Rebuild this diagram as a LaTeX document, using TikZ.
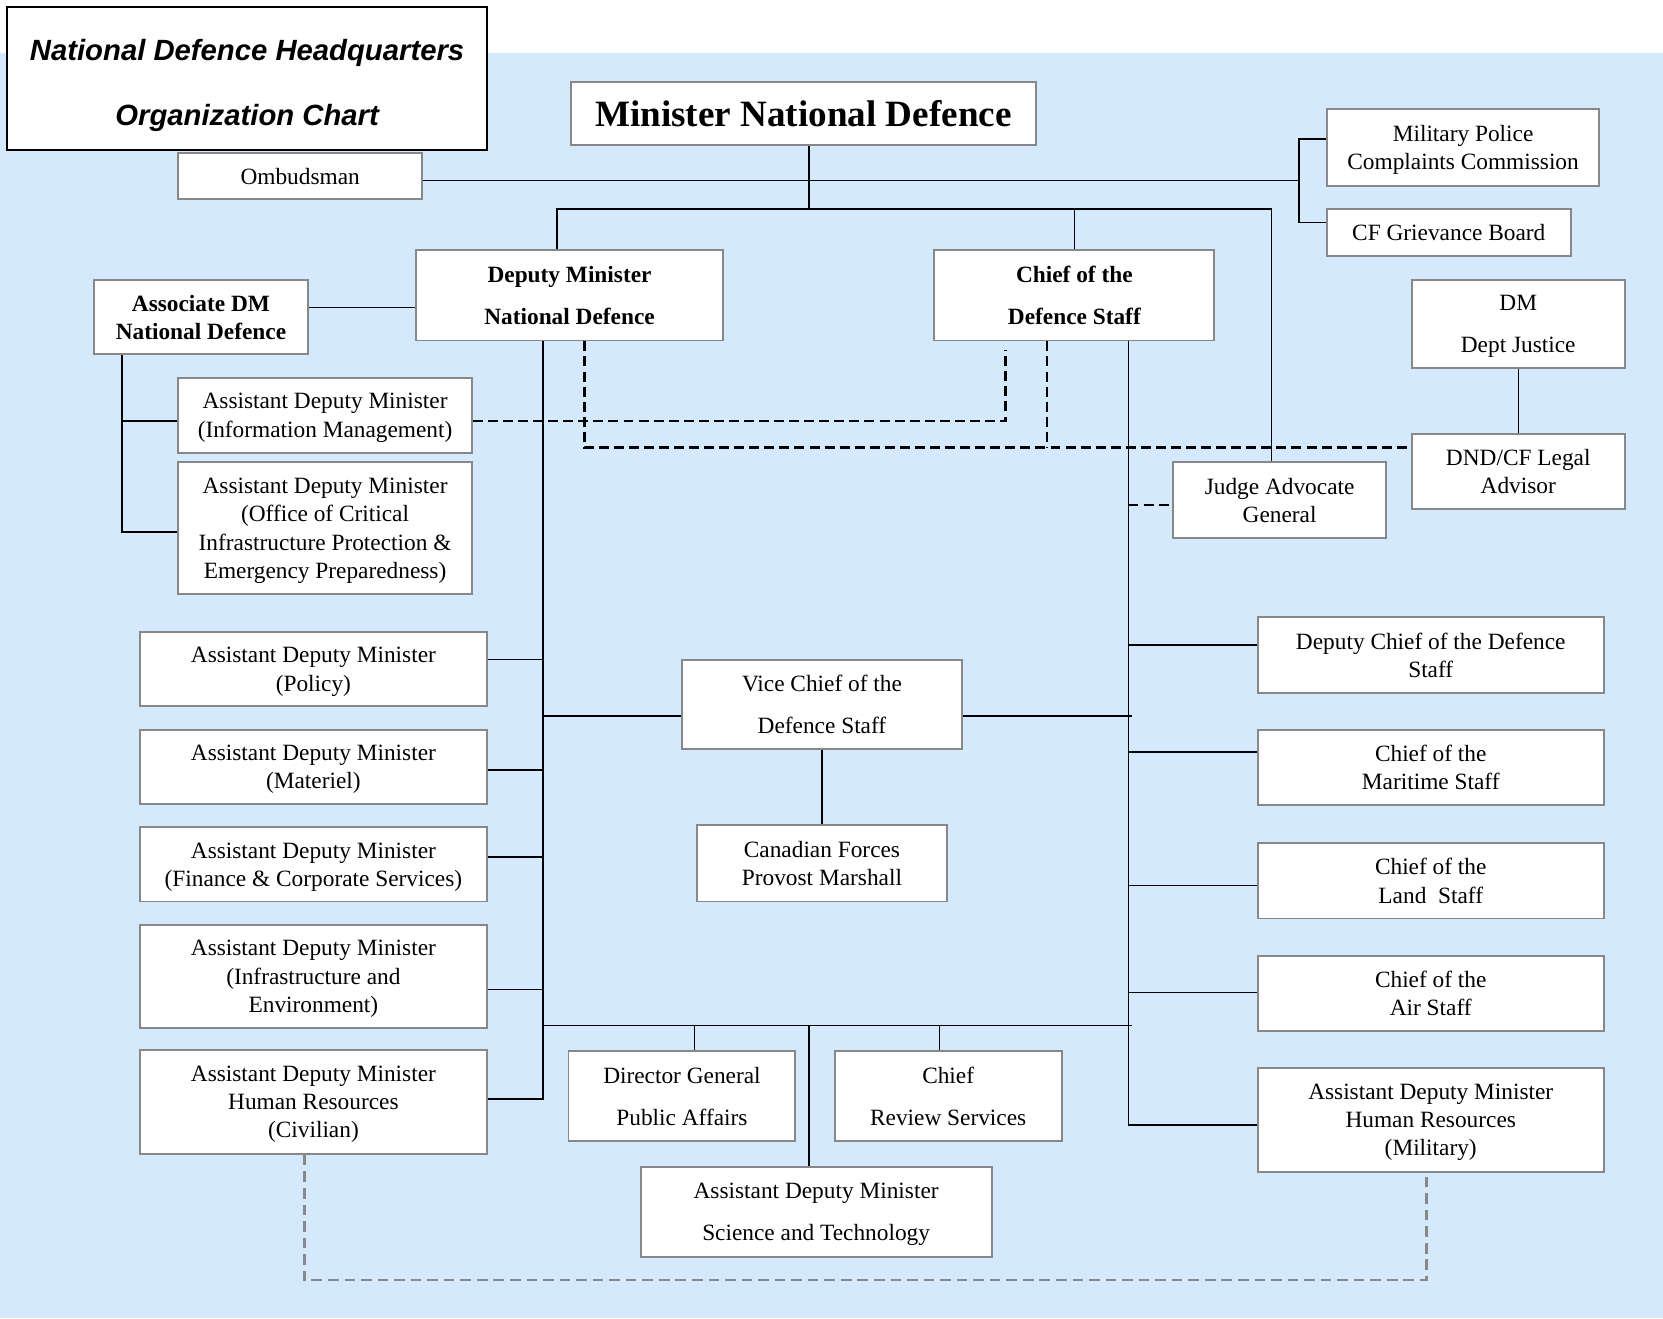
\documentclass[tikz,border=0pt]{standalone}
\usepackage{fontspec}
\setmainfont{Liberation Serif}
\newfontfamily\headfont{Liberation Sans}
\usepackage{tikz}
\usetikzlibrary{positioning,calc}
\definecolor{bgblue}{RGB}{212,233,252}
\definecolor{boxgray}{RGB}{136,136,136}

\begin{document}
\begin{tikzpicture}[x=0.5pt, y=-0.5pt,
    unit/.style={draw=boxgray, line width=0.9pt, fill=white, align=center, inner sep=0pt,
      text depth=-1pt, font=\fontsize{11}{13.3}\selectfont},
    wide/.style={unit, font=\fontsize{11}{20}\selectfont},
    boss/.style={unit, font=\bfseries\fontsize{11}{13.3}\selectfont},
    bosswide/.style={unit, font=\bfseries\fontsize{11}{20}\selectfont},
    link/.style={line width=0.7pt},
    trunk/.style={line width=0.9pt},
    dotlink/.style={line width=1.1pt, dash pattern=on 4.7pt off 2.4pt},
    hrlink/.style={line width=1.2pt, boxgray, dash pattern=on 5pt off 2.8pt}]

    \useasboundingbox (0,0) rectangle (1568,1243);
    \fill[white] (0,0) rectangle (1568,1243);
    \fill[bgblue] (0,50) rectangle (1568,1243);

    % top of the chart
    \node[draw=black, line width=1pt, fill=white, minimum width=226pt, minimum height=67.5pt, align=center,
          inner sep=0pt, text height=44.5pt, text depth=0pt,
          font=\headfont\bfseries\itshape\fontsize{13.8}{30.5}\selectfont] (title) at (233,74)
          {National Defence Headquarters\\Organization Chart};
    \node[unit, font=\bfseries\fontsize{17.5}{20}\selectfont, minimum width=219.5pt, minimum height=30pt] (mnd) at (757.5,107) {Minister National Defence};
    \node[unit, minimum width=115pt, minimum height=22pt] (ombud) at (283,166) {Ombudsman};
    \node[unit, minimum width=128.5pt, minimum height=36pt] (mpcc) at (1379.5,139) {Military Police\\Complaints Commission};
    \node[unit, minimum width=115pt, minimum height=22pt] (cfgb) at (1366,219) {CF Grievance Board};
    \node[bosswide, minimum width=145pt, minimum height=42.5pt] (dm) at (537,278.5) {Deputy Minister\\National Defence};
    \node[bosswide, minimum width=132pt, minimum height=42.5pt] (cds) at (1013,278.5) {Chief of the\\Defence Staff};
    \node[boss, minimum width=100.5pt, minimum height=35pt] (assocdm) at (189.5,299) {Associate DM\\National Defence};
    \node[wide, minimum width=100.5pt, minimum height=41.5pt] (dmjus) at (1431.5,305.5) {DM\\Dept Justice};
    \node[unit, minimum width=138.5pt, minimum height=35.5pt] (admim) at (306.5,391.5) {Assistant Deputy Minister\\(Information Management)};
    \node[unit, minimum width=138.5pt, minimum height=62pt] (admoc) at (306.5,498) {Assistant Deputy Minister\\(Office of Critical\\Infrastructure Protection \&\\Emergency Preparedness)};
    \node[unit, minimum width=100.5pt, minimum height=35.5pt] (legal) at (1431.5,444.5) {DND/CF Legal\\Advisor};
    \node[unit, minimum width=100.5pt, minimum height=35.5pt] (jag) at (1206.5,471.5) {Judge Advocate\\General};

    % left column
    \node[unit, minimum width=163.5pt, minimum height=35pt] (admpol) at (295.5,631) {Assistant Deputy Minister\\(Policy)};
    \node[unit, minimum width=163.5pt, minimum height=35pt] (admmat) at (295.5,723) {Assistant Deputy Minister\\(Materiel)};
    \node[unit, minimum width=163.5pt, minimum height=35pt] (admfin) at (295.5,815) {Assistant Deputy Minister\\(Finance \& Corporate Services)};
    \node[unit, minimum width=163.5pt, minimum height=48.5pt] (adminf) at (295.5,920.5) {Assistant Deputy Minister\\(Infrastructure and\\Environment)};
    \node[unit, minimum width=163.5pt, minimum height=49pt] (admhrc) at (295.5,1039) {Assistant Deputy Minister\\Human Resources\\(Civilian)};

    % middle
    \node[wide, minimum width=132pt, minimum height=42pt] (vcds) at (775,664) {Vice Chief of the\\Defence Staff};
    \node[unit, minimum width=118pt, minimum height=36pt] (cfpm) at (775,814) {Canadian Forces\\Provost Marshall};
    \node[wide, minimum width=107pt, minimum height=42.5pt] (dgpa) at (643,1033.5) {Director General\\Public Affairs};
    \node[wide, minimum width=107pt, minimum height=42.5pt] (crs) at (894,1033.5) {Chief\\Review Services};
    \node[wide, minimum width=165.5pt, minimum height=42.5pt] (admst) at (769.5,1142.5) {Assistant Deputy Minister\\Science and Technology};

    % right column
    \node[unit, minimum width=163pt, minimum height=35.5pt] (dcds) at (1349,617.5) {Deputy Chief of the Defence\\Staff};
    \node[unit, minimum width=163pt, minimum height=35.5pt] (cms) at (1349,723.5) {Chief of the\\Maritime Staff};
    \node[unit, minimum width=163pt, minimum height=35.5pt] (cls) at (1349,830.5) {Chief of the\\Land\ \ Staff};
    \node[unit, minimum width=163pt, minimum height=35.5pt] (cas) at (1349,936.5) {Chief of the\\Air Staff};
    \node[unit, minimum width=163pt, minimum height=49pt] (admhrm) at (1349,1056) {Assistant Deputy Minister\\Human Resources\\(Military)};

    % minister and the top bus
    \coordinate (hub) at (763,197);
    \coordinate (busL) at (525,197);
    \coordinate (busR) at (1199,197);
    \draw[link] (mnd.south -| hub) -- (hub);
    \draw[link] (dm.north -| busL) -- (busL) -- (busR) -- (jag.north -| busR);
    \draw[link] (cds.north) -- (cds.north |- hub);

    % ombudsman and the boards
    \coordinate (brk) at (1225,170);
    \coordinate (brkT) at (1225,131);
    \coordinate (brkB) at (1225,210);
    \draw[link] (ombud.east |- brk) -- (brk);
    \draw[link] (brkT -| mpcc.west) -- (brkT) -- (brkB) -- (brkB -| cfgb.west);

    % associate DM
    \coordinate (adj) at (341,290);
    \coordinate (adM) at (115,397);
    \coordinate (adT) at (115,502);
    \draw[link] (adj -| assocdm.east) -- (adj -| dm.west);
    \draw[trunk] (assocdm.south -| adT) -- (adT) -- (adT -| admoc.west);
    \draw[link] (adM) -- (adM -| admim.west);

    % deputy minister trunk
    \coordinate (dmT) at (512,1036);
    \draw[trunk] (dm.south -| dmT) -- (dmT) -- (dmT -| admhrc.east);
    \foreach \n/\y in {admpol/622, admmat/726, admfin/808, adminf/933}{
        \coordinate (j-\n) at (512,\y);
        \draw[link] (j-\n -| \n.east) -- (j-\n);
    }

    % CDS trunk
    \coordinate (cdsT) at (1064,1061);
    \draw[trunk] (cds.south -| cdsT) -- (cdsT) -- (cdsT -| admhrm.west);
    \foreach \n/\y in {dcds/608, cms/709, cls/835, cas/936}{
        \coordinate (j-\n) at (1064,\y);
        \draw[link] (j-\n) -- (j-\n -| \n.west);
    }

    % vice chief
    \coordinate (vL) at (512,675);
    \coordinate (vR) at (1067,675);
    \draw[link] (vL) -- (vL -| vcds.west);
    \draw[link] (vR -| vcds.east) -- (vR);
    \draw[link] (vcds.south) -- (cfpm.north);

    % bottom bar
    \coordinate (botL) at (512,967);
    \coordinate (botR) at (1067,967);
    \coordinate (jpa) at (655,967);
    \coordinate (jcr) at (886,967);
    \draw[link] (botL) -- (botR);
    \draw[link] (jpa) -- (jpa |- dgpa.north);
    \draw[link] (jcr) -- (jcr |- crs.north);
    \draw[link] (hub |- botL) -- (admst.north -| hub);

    % legal
    \draw[link] (dmjus.south) -- (legal.north);

    % dashed links
    \coordinate (imUp) at (948,330);
    \coordinate (imDn) at (948,397);
    \coordinate (lgL) at (551,422);
    \coordinate (lgM) at (987,422);
    \coordinate (jjag) at (1064,476);
    \draw[dotlink] (imDn -| admim.east) -- (imDn) -- (imUp);
    \draw[dotlink] (dm.south -| lgL) -- (lgL) -- (lgL -| legal.west);
    \draw[dotlink] (cds.south -| lgM) -- (lgM);
    \draw[dotlink] (jjag) -- (jjag -| jag.west);

    % human resources link
    \coordinate (hrL) at (287,1207);
    \coordinate (hrR) at (1345,1207);
    \draw[hrlink] (admhrc.south -| hrL) -- (hrL) -- (hrR) -- (admhrm.south -| hrR);
\end{tikzpicture}
\end{document}
